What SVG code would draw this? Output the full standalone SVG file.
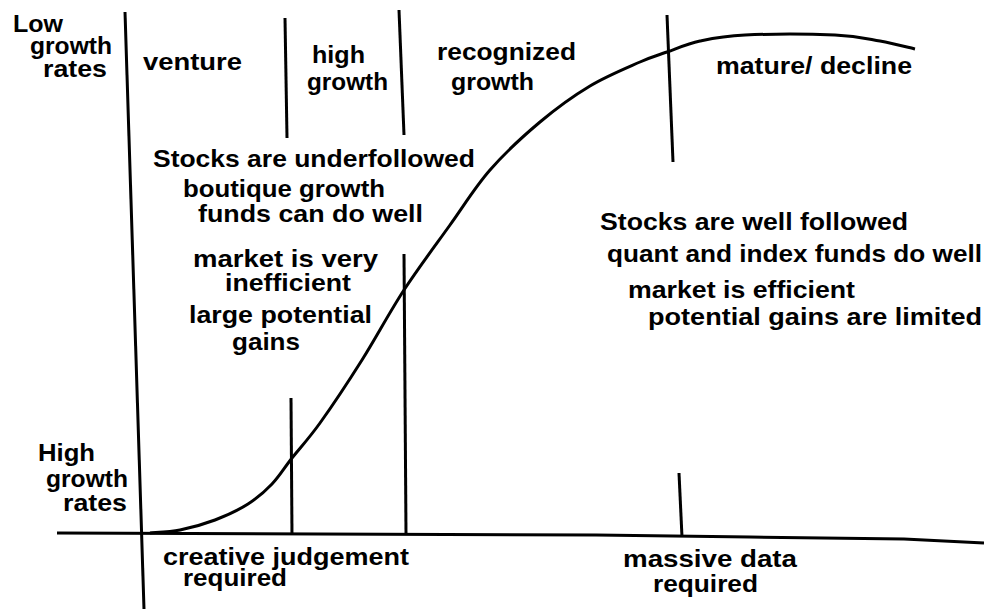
<svg xmlns="http://www.w3.org/2000/svg" width="995" height="609" viewBox="0 0 995 609">
<style>
.ln{fill:none;stroke:#000;stroke-width:3;stroke-linecap:butt;stroke-linejoin:round}
.t{font-family:"Liberation Sans",Arial,sans-serif;font-weight:bold;font-size:24px;fill:#000}
</style>
<rect width="995" height="609" fill="#fff"/>
<g id="axes">
<polyline class="ln" points="57,533 596,535 750,537 904,539 984,543"/>
<line class="ln" x1="125" y1="12" x2="144" y2="609"/>
</g>
<g id="dividers">
<line class="ln" x1="285" y1="18" x2="287" y2="138"/>
<line class="ln" x1="399" y1="10" x2="404" y2="135"/>
<line class="ln" x1="667" y1="15" x2="673" y2="162"/>
<line class="ln" x1="404" y1="254" x2="406" y2="534"/>
<line class="ln" x1="291" y1="398" x2="292" y2="535"/>
<line class="ln" x1="679" y1="473" x2="682" y2="537"/>
</g>
<g id="curve">
<path class="ln" d="M150,533 C155,532.5 169.2,532.2 180,530 C190.8,527.8 203.7,524.3 215,520 C226.3,515.7 238.5,510 248,504 C257.5,498 264.7,491.7 272,484 C279.3,476.3 284,468.2 292,458 C300,447.8 308.3,439.3 320,423 C331.7,406.7 348,382.2 362,360 C376,337.8 389.3,312.5 404,290 C418.7,267.5 435.7,245 450,225 C464.3,205 475,187.2 490,170 C505,152.8 523.3,136 540,122 C556.7,108 573.3,96 590,86 C606.7,76 627.2,67.7 640,62 C652.8,56.3 657,55.5 667,52 C677,48.5 687,43.8 700,41 C713,38.2 722.5,36 745,35 C767.5,34 812.5,34 835,35 C857.5,36 866.7,38.7 880,41 C893.3,43.3 909.2,47.7 915,49"/>
</g>
<g id="stage-labels">
<text class="t" x="13" y="32" textLength="50" lengthAdjust="spacingAndGlyphs">Low</text>
<text class="t" x="30" y="54" textLength="82" lengthAdjust="spacingAndGlyphs">growth</text>
<text class="t" x="43" y="77" textLength="64" lengthAdjust="spacingAndGlyphs">rates</text>
<text class="t" x="143" y="70" textLength="99" lengthAdjust="spacingAndGlyphs">venture</text>
<text class="t" x="312" y="63" textLength="53" lengthAdjust="spacingAndGlyphs">high</text>
<text class="t" x="307" y="90" textLength="81" lengthAdjust="spacingAndGlyphs">growth</text>
<text class="t" x="437" y="60" textLength="139" lengthAdjust="spacingAndGlyphs">recognized</text>
<text class="t" x="451" y="90" textLength="83" lengthAdjust="spacingAndGlyphs">growth</text>
<text class="t" x="716" y="74" textLength="196" lengthAdjust="spacingAndGlyphs">mature/ decline</text>
</g>
<g id="left-notes">
<text class="t" x="153" y="167" textLength="322" lengthAdjust="spacingAndGlyphs">Stocks are underfollowed</text>
<text class="t" x="183" y="197" textLength="202" lengthAdjust="spacingAndGlyphs">boutique growth</text>
<text class="t" x="198" y="222" textLength="225" lengthAdjust="spacingAndGlyphs">funds can do well</text>
<text class="t" x="193" y="267" textLength="185" lengthAdjust="spacingAndGlyphs">market is very</text>
<text class="t" x="225" y="291" textLength="126" lengthAdjust="spacingAndGlyphs">inefficient</text>
<text class="t" x="189" y="323" textLength="183" lengthAdjust="spacingAndGlyphs">large potential</text>
<text class="t" x="232" y="350" textLength="68" lengthAdjust="spacingAndGlyphs">gains</text>
</g>
<g id="right-notes">
<text class="t" x="600" y="230" textLength="308" lengthAdjust="spacingAndGlyphs">Stocks are well followed</text>
<text class="t" x="607" y="262" textLength="375" lengthAdjust="spacingAndGlyphs">quant and index funds do well</text>
<text class="t" x="628" y="298" textLength="227" lengthAdjust="spacingAndGlyphs">market is efficient</text>
<text class="t" x="648" y="325" textLength="334" lengthAdjust="spacingAndGlyphs">potential gains are limited</text>
</g>
<g id="bottom-labels">
<text class="t" x="38" y="461" textLength="57" lengthAdjust="spacingAndGlyphs">High</text>
<text class="t" x="46" y="487" textLength="82" lengthAdjust="spacingAndGlyphs">growth</text>
<text class="t" x="63" y="511" textLength="64" lengthAdjust="spacingAndGlyphs">rates</text>
<text class="t" x="163" y="565" textLength="246" lengthAdjust="spacingAndGlyphs">creative judgement</text>
<text class="t" x="183" y="586" textLength="104" lengthAdjust="spacingAndGlyphs">required</text>
<text class="t" x="623" y="567" textLength="174" lengthAdjust="spacingAndGlyphs">massive data</text>
<text class="t" x="653" y="592" textLength="105" lengthAdjust="spacingAndGlyphs">required</text>
</g>
</svg>
